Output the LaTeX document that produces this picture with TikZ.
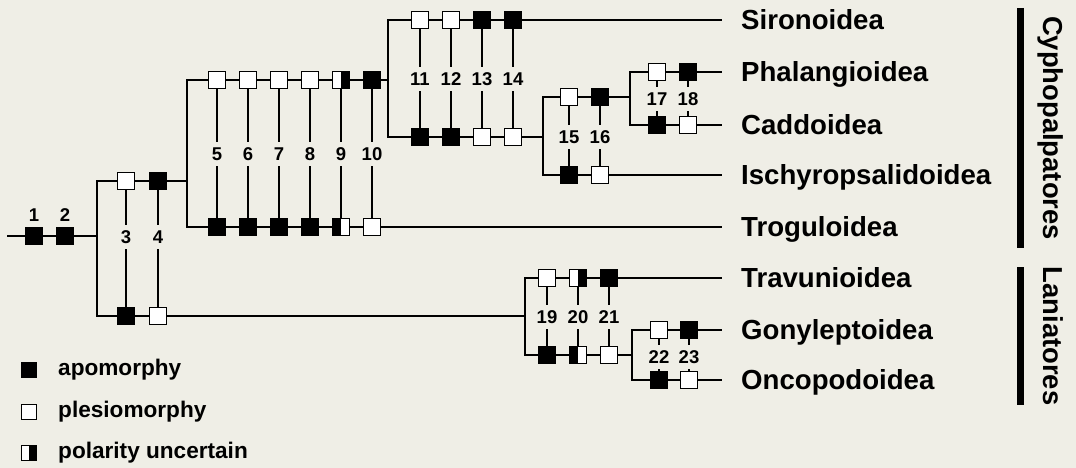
\documentclass[tikz,border=0pt]{standalone}
\usepackage{fontspec}
\setmainfont{Liberation Sans}
\definecolor{BgClr}{rgb}{0.937,0.933,0.902}

\begin{document}
\begin{tikzpicture}[x=1pt,y=-1pt,
  tree/.style={line width=2pt,color=black},
  apo/.style={draw=black,fill=black,line width=1.3pt,minimum size=17pt,inner sep=0pt},
  ple/.style={draw=black,fill=white,line width=1.3pt,minimum size=17pt,inner sep=0pt},
  polWB/.style={ple,path picture={\fill[black] (path picture bounding box.south) rectangle (path picture bounding box.north east);}},
  polBW/.style={ple,path picture={\fill[black] (path picture bounding box.south west) rectangle (path picture bounding box.north);}},
  num/.style={font=\bfseries\fontsize{18.5}{18.5}\selectfont,text height=13.2pt,text depth=0pt,inner xsep=1pt,inner ysep=5.5pt},
  taxon/.style={anchor=west,font=\bfseries\fontsize{27.6}{27.6}\selectfont,text height=19.8pt,text depth=0pt,inner xsep=19pt,inner ysep=0pt},
  clade/.style={font=\bfseries\fontsize{27.4}{27.4}\selectfont,text height=19.6pt,text depth=0pt,inner sep=0pt,rotate=-90},
  leg/.style={anchor=west,font=\bfseries\fontsize{22.6}{22.6}\selectfont,inner sep=0pt},
  bar/.style={line width=7pt}]

\fill[BgClr] (0,0) rectangle (1076,468);

\coordinate (r) at (7,236);
\coordinate (j1t) at (97,181);  \coordinate (j1b) at (97,316);
\coordinate (j2t) at (187,80);  \coordinate (j2b) at (187,227);
\coordinate (j3t) at (388,20);  \coordinate (j3b) at (388,137);
\coordinate (j4t) at (543,97);  \coordinate (j4b) at (543,175);
\coordinate (j5t) at (630,72);  \coordinate (j5b) at (630,125);
\coordinate (j6t) at (525,278); \coordinate (j6b) at (525,355);
\coordinate (j7t) at (632,330); \coordinate (j7b) at (632,380);

% characters
\node[apo] (c1) at (34,236) {};  \node[num] (n1) at (34,215) {1};
\node[apo] (c2) at (65,236) {};  \node[num] (n2) at (65,215) {2};

\node[ple] (t3) at (126,181) {}; \node[apo] (b3) at (126,316) {}; \node[num] (n3) at (126,237) {3};
\node[apo] (t4) at (158,181) {}; \node[ple] (b4) at (158,316) {}; \node[num] (n4) at (158,237) {4};

\node[ple] (t5) at (217,80) {};  \node[apo] (b5) at (217,227) {};  \node[num] (n5) at (217,154) {5};
\node[ple] (t6) at (248,80) {};  \node[apo] (b6) at (248,227) {};  \node[num] (n6) at (248,154) {6};
\node[ple] (t7) at (279,80) {};  \node[apo] (b7) at (279,227) {};  \node[num] (n7) at (279,154) {7};
\node[ple] (t8) at (310,80) {};  \node[apo] (b8) at (310,227) {};  \node[num] (n8) at (310,154) {8};
\node[polWB] (t9) at (341,80) {}; \node[polBW] (b9) at (341,227) {}; \node[num] (n9) at (341,154) {9};
\node[apo] (t10) at (372,80) {}; \node[ple] (b10) at (372,227) {}; \node[num] (n10) at (372,154) {10};

\node[ple] (t11) at (420,20) {};  \node[apo] (b11) at (420,137) {}; \node[num] (n11) at (420,79) {11};
\node[ple] (t12) at (451,20) {};  \node[apo] (b12) at (451,137) {}; \node[num] (n12) at (451,79) {12};
\node[apo] (t13) at (482,20) {};  \node[ple] (b13) at (482,137) {}; \node[num] (n13) at (482,79) {13};
\node[apo] (t14) at (513,20) {};  \node[ple] (b14) at (513,137) {}; \node[num] (n14) at (513,79) {14};

\node[ple] (t15) at (569,97) {};  \node[apo] (b15) at (569,175) {}; \node[num] (n15) at (569,137) {15};
\node[apo] (t16) at (600,97) {};  \node[ple] (b16) at (600,175) {}; \node[num] (n16) at (600,137) {16};

\node[ple] (t17) at (657,72) {};  \node[apo] (b17) at (657,125) {}; \node[num] (n17) at (657,99) {17};
\node[apo] (t18) at (688,72) {};  \node[ple] (b18) at (688,125) {}; \node[num] (n18) at (688,99) {18};

\node[ple] (t19) at (547,278) {}; \node[apo] (b19) at (547,355) {}; \node[num] (n19) at (547,317) {19};
\node[polWB] (t20) at (578,278) {}; \node[polBW] (b20) at (578,355) {}; \node[num] (n20) at (578,317) {20};
\node[apo] (t21) at (609,278) {}; \node[ple] (b21) at (609,355) {}; \node[num] (n21) at (609,317) {21};

\node[ple] (t22) at (659,330) {}; \node[apo] (b22) at (659,380) {}; \node[num] (n22) at (659,357) {22};
\node[apo] (t23) at (689,330) {}; \node[ple] (b23) at (689,380) {}; \node[num] (n23) at (689,357) {23};

% taxa
\node[taxon] (sir) at (722,20)  {Sironoidea};
\node[taxon] (pha) at (722,72)  {Phalangioidea};
\node[taxon] (cad) at (722,125) {Caddoidea};
\node[taxon] (isc) at (722,175) {Ischyropsalidoidea};
\node[taxon] (tro) at (722,227) {Troguloidea};
\node[taxon] (tra) at (722,278) {Travunioidea};
\node[taxon] (gon) at (722,330) {Gonyleptoidea};
\node[taxon] (onc) at (722,380) {Oncopodoidea};

% branches
\draw[tree] (r) -- (c1) -- (c2) -- (97,236);
\draw[tree] (t3) -- (j1t) -- (j1b) -- (b3);
\draw[tree] (t3) -- (t4) -- (j2t |- t4);
\draw[tree] (b3) -- (b4) -- (j6t |- b4);
\draw[tree] (t5) -- (j2t) -- (j2b) -- (b5);
\draw[tree] (t5) -- (t6) -- (t7) -- (t8) -- (t9) -- (t10) -- (j3t |- t10);
\draw[tree] (b5) -- (b6) -- (b7) -- (b8) -- (b9) -- (b10) -- (tro);
\draw[tree] (t11) -- (j3t) -- (j3b) -- (b11);
\draw[tree] (t11) -- (t12) -- (t13) -- (t14) -- (sir);
\draw[tree] (b11) -- (b12) -- (b13) -- (b14) -- (j4t |- b14);
\draw[tree] (t15) -- (j4t) -- (j4b) -- (b15);
\draw[tree] (t15) -- (t16) -- (j5t |- t16);
\draw[tree] (b15) -- (b16) -- (isc);
\draw[tree] (t17) -- (j5t) -- (j5b) -- (b17);
\draw[tree] (t17) -- (t18) -- (pha);
\draw[tree] (b17) -- (b18) -- (cad);
\draw[tree] (t19) -- (j6t) -- (j6b) -- (b19);
\draw[tree] (t19) -- (t20) -- (t21) -- (tra);
\draw[tree] (b19) -- (b20) -- (b21) -- (j7t |- b21);
\draw[tree] (t22) -- (j7t) -- (j7b) -- (b22);
\draw[tree] (t22) -- (t23) -- (gon);
\draw[tree] (b22) -- (b23) -- (onc);

% character lines
\foreach \k in {3,...,23}
  \draw[tree] (t\k) -- (n\k) -- (b\k);

% clades
\coordinate (cyT) at (1020,8);   \coordinate (cyB) at (1020,248);
\coordinate (laT) at (1020,267); \coordinate (laB) at (1020,405);
\draw[bar] (cyT) -- (cyB);
\draw[bar] (laT) -- (laB);
\node[clade] (cyp) at (1053,128) {Cyphopalpatores};
\node[clade] (lan) at (1053,336) {Laniatores};

% legend
\node[apo,minimum size=15pt] (la) at (29,370) {};
\node[ple,minimum size=15pt] (lp) at (29,412) {};
\node[polWB,minimum size=15pt] (lu) at (29,453) {};
\node[leg] (lta) at (58,370) {apomorphy};
\node[leg] (ltp) at (58,412) {plesiomorphy};
\node[leg] (ltu) at (58,453) {polarity uncertain};

\end{tikzpicture}
\end{document}
